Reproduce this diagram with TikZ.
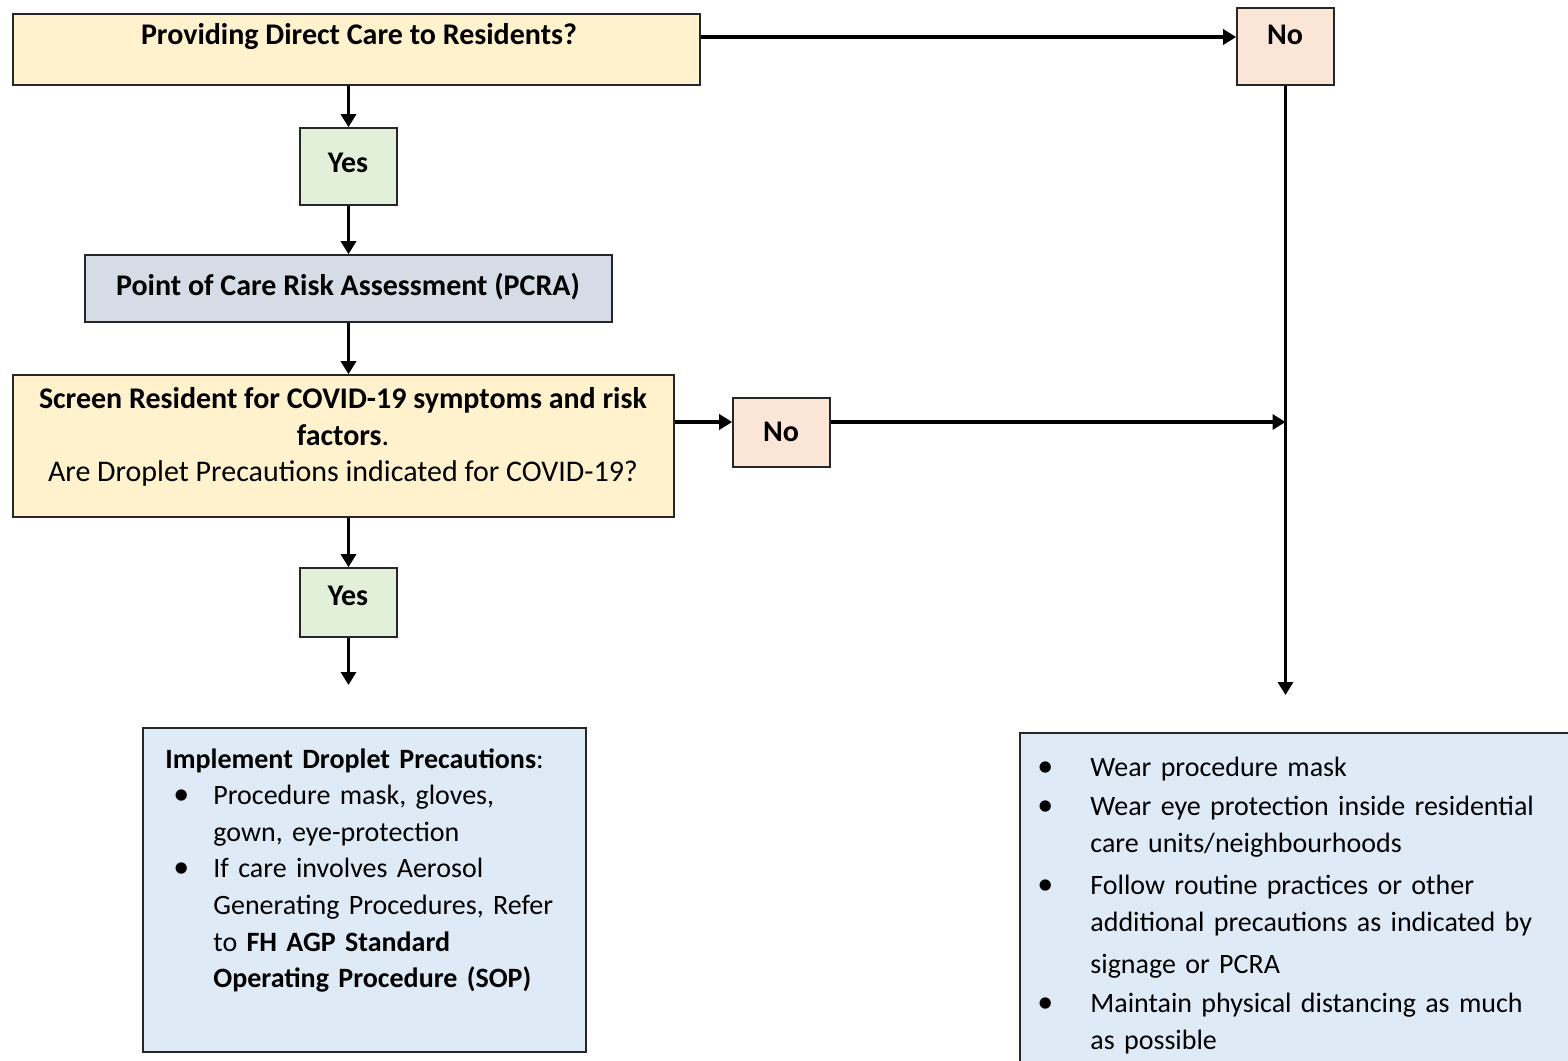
\documentclass[tikz,border=0pt]{standalone}
\usepackage{fontspec}
\setmainfont{Carlito}
\usetikzlibrary{positioning,arrows.meta,fit}
\definecolor{cAsk}{HTML}{FFF2CC}
\definecolor{cNo}{HTML}{FBE5D6}
\definecolor{cYes}{HTML}{E2F0D9}
\definecolor{cRisk}{HTML}{D6DCE5}
\definecolor{cDo}{HTML}{DEEBF7}
\definecolor{cEdge}{HTML}{262626}
\newlength{\bulind}
\newlength{\bulpos}
\newcommand{\bul}[1]{\par\hangindent=\bulind\hangafter=1\noindent
  \makebox[\bulind][l]{\hspace{\bulpos}{\fontsize{16}{0}\selectfont\textbullet}}#1\par}
\tikzset{
  box/.style={draw=cEdge, line width=0.8pt, inner sep=0pt},
  txt/.style={align=center, inner sep=0pt, font=\fontsize{15}{18.3}\selectfont},
  hd/.style={txt, font=\fontsize{15}{18.3}\selectfont\bfseries},
  lst/.style={align=left, inner sep=0pt, anchor=north west, text width=265pt,
              font=\fontsize{14}{18.3}\selectfont},
  arr/.style={-{Triangle[length=6.5pt,width=7.5pt]}, line width=1.6pt}
}
\begin{document}
\begin{tikzpicture}[x=0.5pt, y=-0.5pt]
\clip (0,0) rectangle (1568,1060);
% boxes
\node[box, fill=cAsk, fit={(13,14) (700,85)}] (care) {};
\node[box, fill=cNo, fit={(1237,8) (1334,85)}] (no1) {};
\node[box, fill=cYes, fit={(300,128) (397,205)}] (yes1) {};
\node[box, fill=cRisk, fit={(85,255) (612,322)}] (pcra) {};
\node[box, fill=cAsk, fit={(13,375) (674,517)}] (scr) {};
\node[box, fill=cNo, fit={(733,398) (830,467)}] (no2) {};
\node[box, fill=cYes, fit={(300,568) (397,637)}] (yes2) {};
\node[box, fill=cDo, fit={(143,728) (586,1052)}] (drop) {};
\node[box, fill=cDo, fit={(1020,733) (1590,1090)}] (rout) {};
% texts
\node[hd] (careT) at (359,37) {Providing Direct Care to Residents?};
\node[hd] (no1T) at (1285,35) {No};
\node[hd] (yes1T) at (348,163) {Yes};
\node[hd] (pcraT) at (348,287) {Point of Care Risk Assessment (PCRA)};
\node[txt] (scrT) at (343,437)
  {\textbf{Screen Resident for COVID-19 symptoms and risk}\\
   \textbf{factors}.\\
   Are Droplet Precautions indicated for COVID-19?};
\node[hd] (no2T) at (781,432) {No};
\node[hd] (yes2T) at (348,596) {Yes};
\node[lst] (dropT) at (165,748) {\setlength{\bulind}{24pt}\setlength{\bulpos}{4pt}%
  \textbf{Implement Droplet Precautions}:
  \bul{Procedure mask, gloves,\newline gown, eye-protection}
  \bul{If care involves Aerosol\newline Generating Procedures, Refer\newline to
       \textbf{FH AGP Standard}\newline\textbf{Operating Procedure (SOP)}}};
\node[lst] (routT) at (1035,739) {\setlength{\bulind}{27.5pt}\setlength{\bulpos}{1pt}%
  \bul{Wear procedure mask}\vspace{1.5pt}
  \bul{Wear eye protection inside residential\newline care units/neighbourhoods}\vspace{3pt}
  \bul{Follow routine practices or other\newline additional precautions as indicated by\newline
       \rule{0pt}{18pt}signage or PCRA}\vspace{1pt}
  \bul{Maintain physical distancing as much\newline as possible}};
% connectors
\coordinate (endL) at (yes2.south |- 0,685);
\coordinate (endR) at (no1.south |- 0,695);
\draw[arr] (care.east) ++(0,-12.5) coordinate (a1) -- (a1 -| no1.west);
\draw[arr] (care.south -| yes1.north) -- (yes1.north);
\draw[arr] (yes1.south) -- (pcra.north -| yes1.south);
\draw[arr] (pcra.south -| yes1.south) -- (scr.north -| yes1.south);
\draw[arr] (scr.south -| yes2.north) -- (yes2.north);
\draw[arr] (yes2.south) -- (endL);
\draw[arr] (no1.south) -- (endR);
\draw[arr] (scr.east) ++(0,-24) coordinate (a2) -- (a2 -| no2.west);
\draw[arr] (no2.east) ++(0,-10.5) coordinate (a3) -- (a3 -| endR);
\end{tikzpicture}
\end{document}
